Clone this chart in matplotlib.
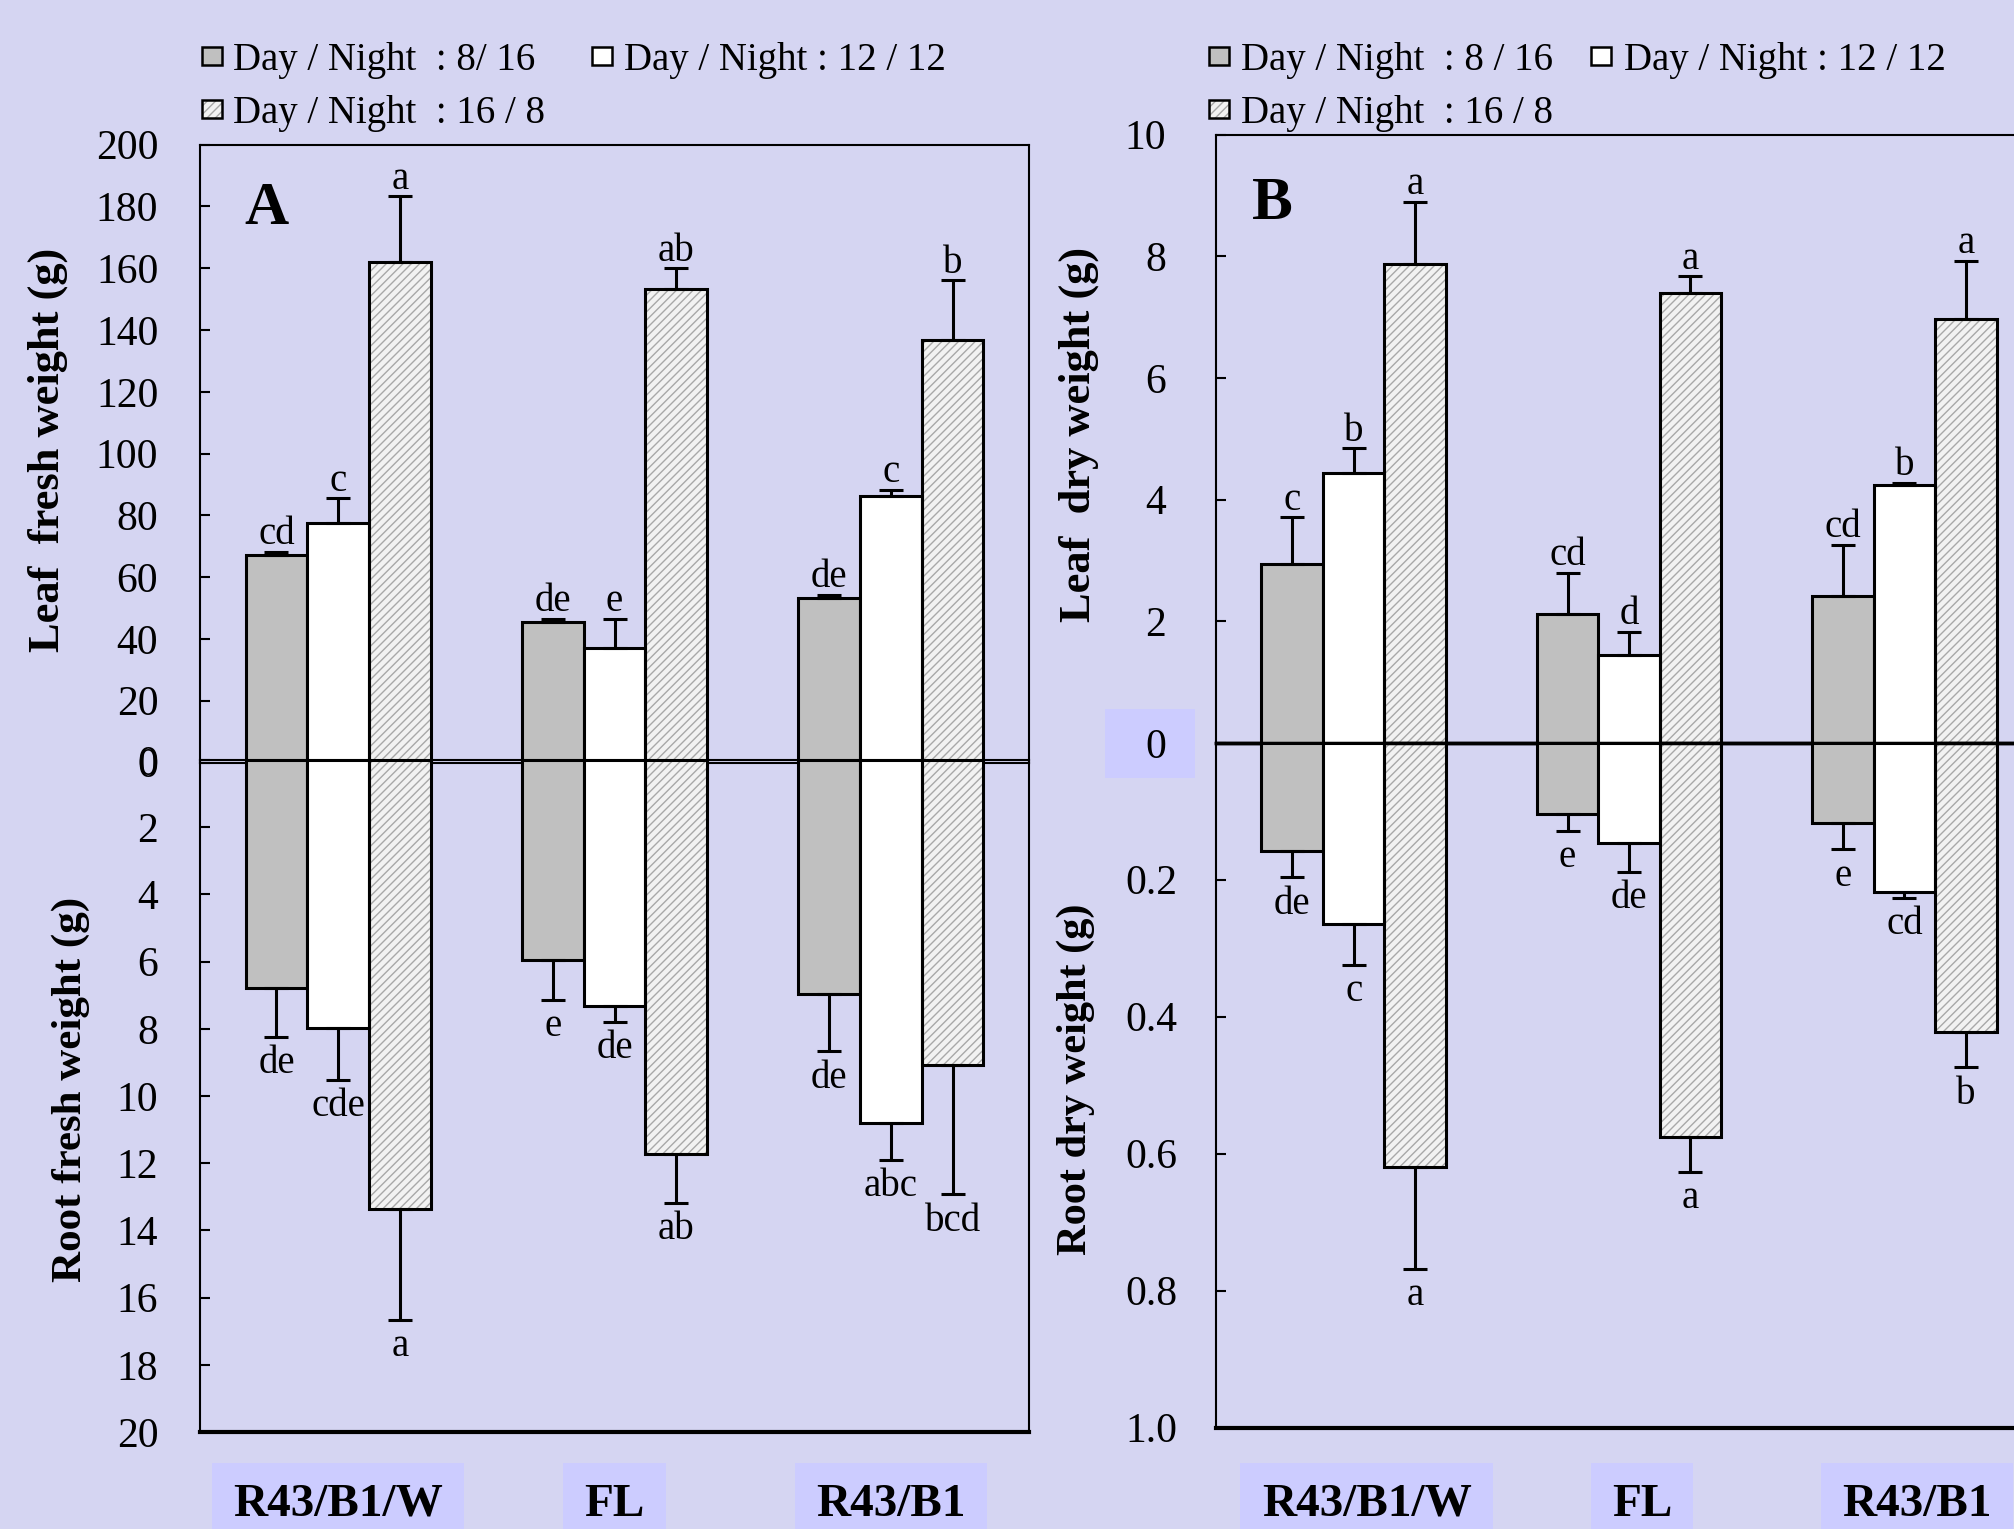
import matplotlib
matplotlib.use('Agg')
import matplotlib.pyplot as plt
from matplotlib.patches import Rectangle
import matplotlib.transforms as mtrans

plt.rcParams['font.family'] = ['Liberation Serif', 'DejaVu Serif']
plt.rcParams['hatch.linewidth'] = 1.0

# ---------------- data ----------------
categories = ['R43/B1/W', 'FL', 'R43/B1']
series_A = ['Day / Night  : 8/ 16', 'Day / Night : 12 / 12', 'Day / Night  : 16 / 8']
series_B = ['Day / Night  : 8 / 16', 'Day / Night : 12 / 12', 'Day / Night  : 16 / 8']

# values per series (8/16, 12/12, 16/8), each over categories
leaf_fw = [[67.1, 45.6, 53.4], [77.6, 37.0, 86.4], [162.0, 153.3, 136.7]]
leaf_fw_err = [[1.0, 1.0, 0.9], [7.9, 9.6, 1.8], [21.3, 6.7, 19.4]]
leaf_fw_letters = [['cd', 'de', 'de'], ['c', 'e', 'c'], ['a', 'ab', 'b']]

root_fw = [[6.80, 5.95, 6.97], [7.98, 7.31, 10.79], [13.36, 11.73, 9.09]]
root_fw_err = [[1.43, 1.19, 1.70], [1.53, 0.49, 1.11], [3.31, 1.45, 3.84]]
root_fw_letters = [['de', 'e', 'de'], ['cde', 'de', 'abc'], ['a', 'ab', 'bcd']]

leaf_dw = [[2.94, 2.12, 2.41], [4.43, 1.44, 4.24], [7.87, 7.39, 6.96]]
leaf_dw_err = [[0.77, 0.68, 0.85], [0.41, 0.39, 0.04], [1.02, 0.28, 0.96]]
leaf_dw_letters = [['c', 'cd', 'cd'], ['b', 'd', 'b'], ['a', 'a', 'a']]

root_dw = [[0.158, 0.104, 0.117], [0.265, 0.146, 0.218], [0.620, 0.576, 0.423]]
root_dw_err = [[0.039, 0.025, 0.039], [0.060, 0.043, 0.009], [0.148, 0.051, 0.051]]
root_dw_letters = [['de', 'e', 'e'], ['c', 'de', 'cd'], ['a', 'a', 'b']]

leafA_ticks = [0, 20, 40, 60, 80, 100, 120, 140, 160, 180, 200]
rootA_ticks = [0, 2, 4, 6, 8, 10, 12, 14, 16, 18, 20]
leafB_ticks = [0, 2, 4, 6, 8, 10]
rootB_ticks = [0.2, 0.4, 0.6, 0.8, 1.0]
rootB_labels = ['0.2', '0.4', '0.6', '0.8', '1.0']

# ---------------- style ----------------
BG = '#D5D5F2'
BOX = '#CCCCFF'
GRAY = '#C0C0C0'
WHITE = '#FFFFFF'
HATCH_FC = '#F2F2F2'
HATCH_EC = '#A8A8A8'
W, H = 2014, 1529
BW = 0.2233
centers = [0.5, 1.5, 2.5]

fig = plt.figure(figsize=(W / 100, H / 100), dpi=100, facecolor=BG)


def px_axes(left, top, right, bottom):
    ax = fig.add_axes([left / W, 1 - bottom / H, (right - left) / W, (bottom - top) / H])
    ax.set_facecolor('none')
    return ax


axA_top = px_axes(200, 144.6, 1029, 762.5)
axA_bot = px_axes(200, 760, 1029, 1432)
axB_top = px_axes(1216, 134.5, 2042, 743)
axB_bot = px_axes(1216, 742.5, 2042, 1427.5)


def draw(ax, vals, errs, letters, down):
    fills = [GRAY, WHITE, None]
    for i in range(3):
        xs = [c + (i - 1) * BW for c in centers]
        if fills[i] is None:
            ax.bar(xs, vals[i], BW, color=HATCH_FC, hatch='////', edgecolor=HATCH_EC,
                   linewidth=0, zorder=2)
            ax.bar(xs, vals[i], BW, fill=False, edgecolor='black', linewidth=2.2, zorder=3)
        else:
            ax.bar(xs, vals[i], BW, color=fills[i], edgecolor='black', linewidth=2.2, zorder=3)
        ax.errorbar(xs, vals[i], yerr=[[0, 0, 0], errs[i]], fmt='none', ecolor='black',
                    elinewidth=2.2, capsize=8.5, capthick=2.2, zorder=4)
        for x, v, e, t in zip(xs, vals[i], errs[i], letters[i]):
            ax.annotate(t, (x, v + e), xytext=(0, -6 if down else -1), textcoords='offset points',
                        ha='center', va='top' if down else 'bottom', fontsize=28)
    ax.set_xlim(0, 3)
    ax.set_xticks([])
    ax.tick_params(axis='y', direction='in', length=7, width=1.5, labelsize=30)
    for s in ax.spines.values():
        s.set_linewidth(1.5)


draw(axA_top, leaf_fw, leaf_fw_err, leaf_fw_letters, False)
axA_top.set_ylim(0, 200)
axA_top.set_yticks(leafA_ticks)
axA_top.tick_params(axis='y', pad=30)

draw(axA_bot, root_fw, root_fw_err, root_fw_letters, True)
axA_bot.set_ylim(20, 0)
axA_bot.set_yticks(rootA_ticks)
axA_bot.tick_params(axis='y', pad=30)
axA_bot.spines['bottom'].set_linewidth(3)

draw(axB_top, leaf_dw, leaf_dw_err, leaf_dw_letters, False)
axB_top.set_ylim(0, 10)
axB_top.set_yticks(leafB_ticks)
axB_top.tick_params(axis='y', pad=36)
axB_top.spines['bottom'].set_linewidth(2.5)

draw(axB_bot, root_dw, root_dw_err, root_dw_letters, True)
axB_bot.set_ylim(1.0, 0)
axB_bot.set_yticks(rootB_ticks)
axB_bot.set_yticklabels(rootB_labels)
axB_bot.tick_params(axis='y', pad=28)
axB_bot.spines['bottom'].set_linewidth(3)
axB_bot.spines['top'].set_linewidth(2.5)

# panel letters
axA_top.text(0.08, 0.895, 'A', transform=axA_top.transAxes, fontsize=44, fontweight='bold',
             ha='center', va='center')
axB_top.text(0.068, 0.885, 'B', transform=axB_top.transAxes, fontsize=44, fontweight='bold',
             ha='center', va='center')

# y labels
fig.text(48 / W, 1 - 450 / H, 'Leaf  fresh weight (g)', rotation=90, ha='center', va='center',
         fontsize=32, fontweight='bold')
fig.text(71 / W, 1 - 1089 / H, 'Root fresh weight (g)', rotation=90, ha='center', va='center',
         fontsize=31, fontweight='bold')
fig.text(1079 / W, 1 - 434 / H, 'Leaf  dry weight (g)', rotation=90, ha='center', va='center',
         fontsize=32, fontweight='bold')
fig.text(1076 / W, 1 - 1079 / H, 'Root dry weight (g)', rotation=90, ha='center', va='center',
         fontsize=30.5, fontweight='bold')

# box behind B "0"
fig.add_artist(Rectangle((1105 / W, 1 - 778 / H), 90 / W, 69 / H, transform=fig.transFigure,
                         facecolor=BOX, edgecolor='none', zorder=-1))

# category labels
for ax, shift_px in ((axA_bot, 0), (axB_bot, 13)):
    tr = mtrans.blended_transform_factory(ax.transData, fig.transFigure)
    tr = tr + mtrans.Affine2D().translate(shift_px, 0)
    for c, name in zip(centers, categories):
        ax.text(c, 1 - 1505 / H, name, transform=tr, ha='center', va='center', fontsize=34,
                fontweight='bold', clip_on=False,
                bbox=dict(boxstyle='square,pad=0.45', facecolor=BOX, edgecolor='none'))

# legends
def legend(labels, marker_x, text_x, rows_y):
    fills = [GRAY, WHITE, None]
    pos = [(0, 0), (1, 0), (0, 1)]
    for i, lab in enumerate(labels):
        col, row = pos[i]
        mx, tx, y = marker_x[col], text_x[col], rows_y[row]
        if fills[i] is None:
            fig.add_artist(Rectangle(((mx - 10) / W, 1 - (y + 9) / H), 20 / W, 18 / H,
                                     transform=fig.transFigure, facecolor=HATCH_FC,
                                     hatch='////', edgecolor=HATCH_EC, linewidth=0))
            fig.add_artist(Rectangle(((mx - 10) / W, 1 - (y + 9) / H), 20 / W, 18 / H,
                                     transform=fig.transFigure, fill=False,
                                     edgecolor='black', linewidth=1.8))
        else:
            fig.add_artist(Rectangle(((mx - 10) / W, 1 - (y + 9) / H), 20 / W, 18 / H,
                                     transform=fig.transFigure, facecolor=fills[i],
                                     edgecolor='black', linewidth=1.8))
        fig.text(tx / W, 1 - y / H, lab, ha='left', va='center_baseline', fontsize=28)


legend(series_A, [212, 602], [233, 624], [56, 109])
legend(series_B, [1219, 1601], [1241, 1624], [56, 109])

fig.savefig('out.png', dpi=100, facecolor=BG)
